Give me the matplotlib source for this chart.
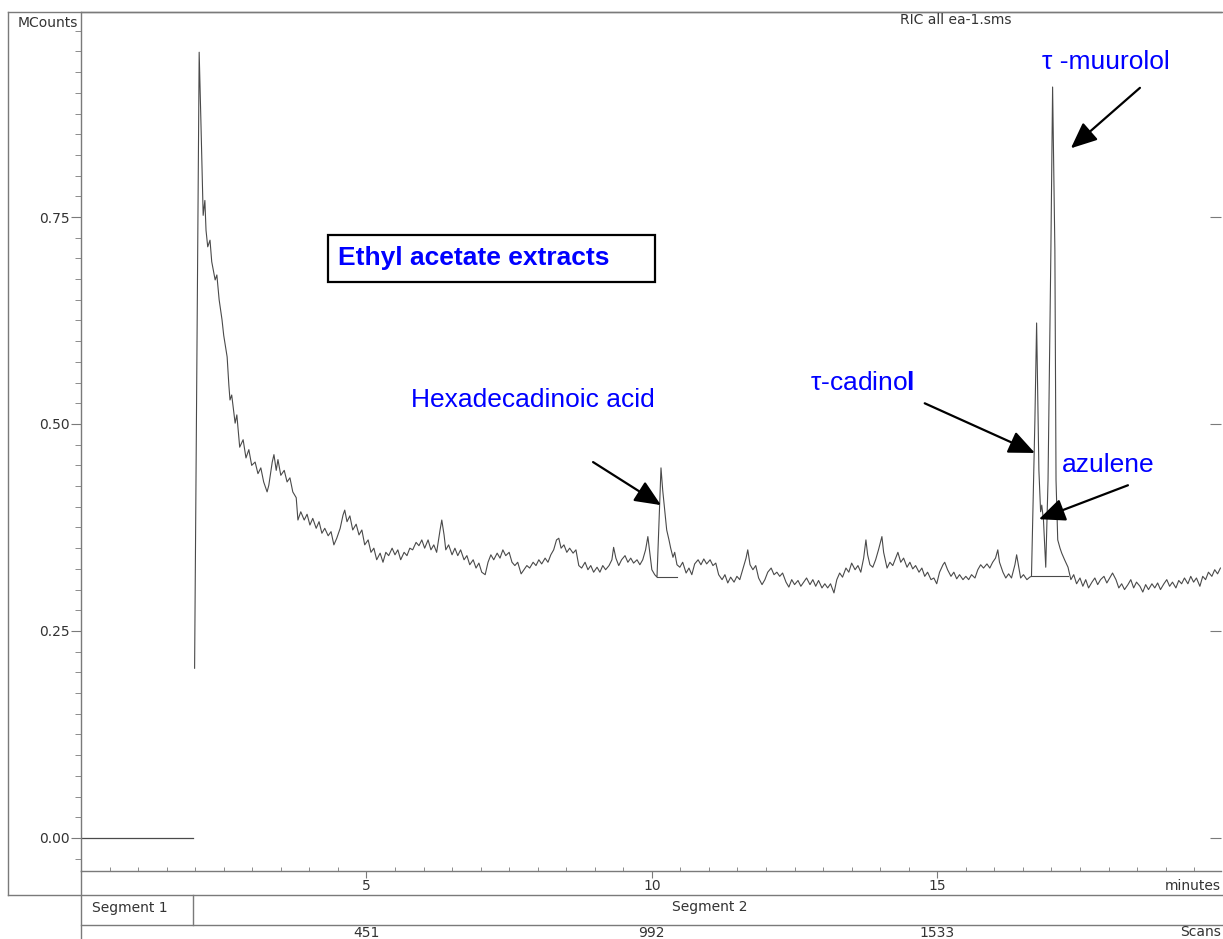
import matplotlib
matplotlib.use("Agg")
import matplotlib.pyplot as plt
from matplotlib import transforms
from matplotlib.lines import Line2D
from matplotlib.patches import Rectangle
from matplotlib.ticker import MultipleLocator, FixedLocator, FormatStrFormatter

plt.rcParams['font.family'] = ['Liberation Sans', 'DejaVu Sans']
plt.rcParams['mathtext.fontset'] = 'custom'
plt.rcParams['mathtext.rm'] = 'Liberation Sans'
plt.rcParams['mathtext.bf'] = 'Liberation Sans:bold'

# Segment 1: flat trace before acquisition starts
seg1_time = [0.0, 1.96]
seg1_counts = [0.0, 0.0]

# Segment 2: RIC trace (minutes, MCounts)
ret_time = [
    1.99, 2.07, 2.10, 2.14, 2.17, 2.19, 2.22, 2.26, 2.29, 2.35,
    2.38, 2.42, 2.47, 2.50, 2.56, 2.59, 2.61, 2.64, 2.70, 2.73,
    2.78, 2.84, 2.89, 2.94, 2.99, 3.05, 3.10, 3.15, 3.20, 3.26,
    3.29, 3.35, 3.38, 3.42, 3.45, 3.50, 3.56, 3.61, 3.66, 3.71,
    3.77, 3.80, 3.85, 3.91, 3.96, 4.01, 4.06, 4.12, 4.17, 4.22,
    4.27, 4.33, 4.38, 4.43, 4.48, 4.54, 4.59, 4.62, 4.66, 4.71,
    4.76, 4.82, 4.87, 4.92, 4.97, 5.03, 5.08, 5.13, 5.18, 5.24,
    5.29, 5.34, 5.39, 5.45, 5.50, 5.55, 5.60, 5.66, 5.71, 5.76,
    5.81, 5.87, 5.92, 5.97, 6.02, 6.08, 6.13, 6.18, 6.23, 6.29,
    6.32, 6.36, 6.39, 6.44, 6.50, 6.55, 6.60, 6.65, 6.71, 6.76,
    6.81, 6.87, 6.92, 6.97, 7.02, 7.08, 7.13, 7.18, 7.23, 7.29,
    7.34, 7.39, 7.44, 7.50, 7.55, 7.60, 7.65, 7.71, 7.76, 7.81,
    7.86, 7.92, 7.97, 8.02, 8.07, 8.13, 8.18, 8.23, 8.28, 8.33,
    8.37, 8.41, 8.46, 8.51, 8.56, 8.62, 8.67, 8.72, 8.77, 8.83,
    8.88, 8.93, 8.98, 9.04, 9.09, 9.14, 9.19, 9.25, 9.30, 9.33,
    9.37, 9.42, 9.47, 9.53, 9.58, 9.63, 9.68, 9.74, 9.79, 9.84,
    9.89, 9.93, 9.97, 10.00, 10.05, 10.09, 10.16, 10.19, 10.23, 10.26,
    10.30, 10.33, 10.37, 10.40, 10.44, 10.49, 10.54, 10.60, 10.65, 10.70,
    10.75, 10.81, 10.86, 10.91, 10.96, 11.02, 11.07, 11.12, 11.17, 11.23,
    11.28, 11.33, 11.38, 11.44, 11.49, 11.54, 11.59, 11.65, 11.68, 11.72,
    11.77, 11.82, 11.87, 11.93, 11.98, 12.03, 12.09, 12.14, 12.19, 12.24,
    12.29, 12.35, 12.40, 12.45, 12.50, 12.56, 12.61, 12.66, 12.71, 12.77,
    12.82, 12.87, 12.92, 12.98, 13.03, 13.08, 13.13, 13.19, 13.24, 13.29,
    13.34, 13.40, 13.45, 13.50, 13.56, 13.61, 13.66, 13.71, 13.75, 13.78,
    13.82, 13.87, 13.92, 13.97, 14.03, 14.06, 14.12, 14.17, 14.22, 14.27,
    14.31, 14.36, 14.41, 14.47, 14.52, 14.57, 14.62, 14.68, 14.73, 14.78,
    14.83, 14.89, 14.94, 14.99, 15.04, 15.10, 15.13, 15.18, 15.24, 15.29,
    15.34, 15.39, 15.45, 15.50, 15.55, 15.60, 15.66, 15.71, 15.76, 15.81,
    15.87, 15.92, 15.97, 16.02, 16.06, 16.09, 16.15, 16.20, 16.25, 16.30,
    16.36, 16.39, 16.43, 16.46, 16.51, 16.57, 16.62, 16.65, 16.71, 16.74,
    16.78, 16.81, 16.83, 16.86, 16.90, 16.94, 16.99, 17.02, 17.06, 17.08,
    17.11, 17.15, 17.18, 17.23, 17.29, 17.34, 17.39, 17.44, 17.50, 17.55,
    17.60, 17.65, 17.71, 17.76, 17.81, 17.86, 17.92, 17.97, 18.02, 18.07,
    18.13, 18.18, 18.23, 18.28, 18.34, 18.39, 18.44, 18.49, 18.55, 18.60,
    18.65, 18.70, 18.76, 18.81, 18.86, 18.91, 18.97, 19.02, 19.07, 19.12,
    19.18, 19.23, 19.28, 19.33, 19.39, 19.44, 19.49, 19.54, 19.60, 19.65,
    19.70, 19.75, 19.81, 19.86, 19.91, 19.96,
]
mcounts = [
    0.205, 0.949, 0.867, 0.752, 0.770, 0.734, 0.714, 0.722, 0.696, 0.674,
    0.680, 0.650, 0.626, 0.607, 0.581, 0.547, 0.529, 0.535, 0.501, 0.511,
    0.472, 0.481, 0.459, 0.469, 0.450, 0.454, 0.440, 0.447, 0.430, 0.418,
    0.426, 0.454, 0.463, 0.444, 0.457, 0.438, 0.444, 0.430, 0.435, 0.418,
    0.411, 0.384, 0.394, 0.384, 0.391, 0.378, 0.386, 0.374, 0.382, 0.368,
    0.374, 0.365, 0.370, 0.354, 0.362, 0.374, 0.390, 0.396, 0.382, 0.389,
    0.372, 0.379, 0.366, 0.372, 0.354, 0.360, 0.345, 0.350, 0.336, 0.344,
    0.333, 0.345, 0.341, 0.350, 0.342, 0.348, 0.336, 0.345, 0.341, 0.350,
    0.348, 0.357, 0.353, 0.360, 0.350, 0.360, 0.348, 0.354, 0.345, 0.372,
    0.384, 0.366, 0.348, 0.354, 0.342, 0.350, 0.341, 0.348, 0.336, 0.341,
    0.330, 0.336, 0.326, 0.332, 0.321, 0.318, 0.333, 0.342, 0.336, 0.344,
    0.338, 0.348, 0.341, 0.345, 0.333, 0.329, 0.333, 0.319, 0.324, 0.329,
    0.326, 0.333, 0.329, 0.336, 0.331, 0.338, 0.333, 0.342, 0.348, 0.360,
    0.362, 0.350, 0.354, 0.345, 0.350, 0.344, 0.348, 0.329, 0.326, 0.333,
    0.324, 0.329, 0.321, 0.327, 0.321, 0.329, 0.324, 0.329, 0.336, 0.351,
    0.338, 0.329, 0.336, 0.341, 0.333, 0.338, 0.332, 0.336, 0.330, 0.336,
    0.348, 0.364, 0.341, 0.324, 0.318, 0.315, 0.447, 0.420, 0.393, 0.372,
    0.360, 0.350, 0.339, 0.345, 0.330, 0.327, 0.333, 0.320, 0.326, 0.318,
    0.331, 0.336, 0.330, 0.337, 0.331, 0.336, 0.329, 0.332, 0.318, 0.312,
    0.318, 0.308, 0.315, 0.309, 0.316, 0.312, 0.324, 0.338, 0.348, 0.330,
    0.324, 0.329, 0.314, 0.306, 0.312, 0.321, 0.326, 0.318, 0.321, 0.316,
    0.320, 0.309, 0.303, 0.312, 0.306, 0.311, 0.304, 0.309, 0.314, 0.306,
    0.312, 0.304, 0.311, 0.302, 0.307, 0.302, 0.307, 0.296, 0.312, 0.320,
    0.315, 0.326, 0.321, 0.332, 0.324, 0.329, 0.321, 0.338, 0.360, 0.342,
    0.330, 0.327, 0.336, 0.348, 0.364, 0.345, 0.326, 0.333, 0.329, 0.338,
    0.345, 0.333, 0.338, 0.327, 0.333, 0.325, 0.329, 0.321, 0.326, 0.316,
    0.321, 0.312, 0.314, 0.307, 0.321, 0.330, 0.333, 0.324, 0.316, 0.321,
    0.313, 0.318, 0.312, 0.316, 0.312, 0.318, 0.314, 0.324, 0.330, 0.326,
    0.331, 0.326, 0.333, 0.338, 0.348, 0.333, 0.321, 0.314, 0.319, 0.314,
    0.330, 0.342, 0.326, 0.314, 0.318, 0.312, 0.315, 0.316, 0.505, 0.622,
    0.444, 0.394, 0.402, 0.384, 0.327, 0.432, 0.710, 0.907, 0.710, 0.432,
    0.360, 0.350, 0.344, 0.336, 0.327, 0.312, 0.318, 0.307, 0.314, 0.304,
    0.312, 0.302, 0.309, 0.314, 0.306, 0.312, 0.316, 0.308, 0.314, 0.320,
    0.312, 0.302, 0.307, 0.300, 0.306, 0.312, 0.302, 0.309, 0.304, 0.297,
    0.306, 0.300, 0.307, 0.302, 0.308, 0.300, 0.307, 0.312, 0.304, 0.309,
    0.302, 0.311, 0.307, 0.314, 0.307, 0.316, 0.309, 0.314, 0.304, 0.316,
    0.312, 0.321, 0.316, 0.324, 0.319, 0.326,
]

# integration baselines drawn under the integrated peaks
base_start = [10.09, 16.65]
base_end = [10.44, 17.29]
base_level = [0.315, 0.316]

# scan-number axis under the time axis
scan_minutes = [5, 10, 15]
scan_labels = ["451", "992", "1533"]
segment2_start = 1.96

# peak labels: text, text pos, arrow tail, arrow tip
peak_names = ["Hexadecadinoic acid", r"τ-cadino$\mathbf{l}$", "azulene", "τ -muurolol"]
label_pos = [(7.92, 0.529), (13.68, 0.550), (17.99, 0.450), (17.95, 0.937)]
arrow_tail = [(8.97, 0.454), (14.78, 0.525), (18.34, 0.426), (18.55, 0.906)]
arrow_tip = [(10.16, 0.402), (16.71, 0.465), (16.78, 0.385), (17.34, 0.833)]

W, H = 1223, 939
def fx(px):
    return px / W
def fy(py):
    return 1 - py / H

TRACE = "#4a4a4a"
FRAME = "#7a7a7a"
INSTR = dict(family="DejaVu Sans", fontsize=10, color="#333333")

fig = plt.figure(figsize=(12.23, 9.39), dpi=100)
ax = fig.add_axes([fx(81), fy(871), fx(1221) - fx(81), fy(12) - fy(871)])

ax.plot(seg1_time, seg1_counts, color=TRACE, lw=0.9)
ax.plot(ret_time, mcounts, color=TRACE, lw=0.8)
for t0, t1, lvl in zip(base_start, base_end, base_level):
    ax.plot([t0, t1], [lvl, lvl], color=TRACE, lw=0.8)

ax.set_xlim(0, 19.97)
ax.set_ylim(-0.0399, 0.9976)
ax.xaxis.set_major_locator(FixedLocator([5, 10, 15]))
ax.xaxis.set_minor_locator(MultipleLocator(0.5))
ax.yaxis.set_major_locator(MultipleLocator(0.25))
ax.yaxis.set_minor_locator(MultipleLocator(0.025))
ax.yaxis.set_major_formatter(FormatStrFormatter('%.2f'))

ax.tick_params(axis='y', which='major', direction='out', length=7, width=0.8, color=FRAME,
               labelsize=10, labelcolor="#333333", labelfontfamily="DejaVu Sans", pad=1)
ax.tick_params(axis='y', which='minor', direction='out', length=4, width=0.6, color=FRAME)
ax.tick_params(axis='x', which='major', direction='out', length=5, width=0.8, color=FRAME,
               labelsize=10, labelcolor="#333333", labelfontfamily="DejaVu Sans", pad=1)
ax.tick_params(axis='x', which='minor', direction='in', length=3, width=0.6, color=FRAME)
for side in ['left', 'bottom', 'top']:
    ax.spines[side].set_color(FRAME)
    ax.spines[side].set_linewidth(1.0)
ax.spines['right'].set_visible(False)

# right-hand major ticks pointing inwards
ax2 = ax.twinx()
ax2.set_ylim(ax.get_ylim())
ax2.yaxis.set_major_locator(MultipleLocator(0.25))
ax2.tick_params(axis='y', direction='in', length=8, width=0.8, color=FRAME, labelright=False)
for s in ax2.spines.values():
    s.set_visible(False)

# peak annotations
for name, pos, tail, tip in zip(peak_names, label_pos, arrow_tail, arrow_tip):
    ax.text(pos[0], pos[1], name, color="blue", fontsize=19, ha="center", va="center")
    ax.annotate("", xy=tip, xytext=tail,
                arrowprops=dict(arrowstyle="-|>,head_length=0.8,head_width=0.35",
                                color="black", lw=1.6, mutation_scale=20,
                                shrinkA=0, shrinkB=0))

# title box
fig.patches.append(Rectangle((fx(328), fy(282)), fx(655) - fx(328), fy(235) - fy(282),
                             transform=fig.transFigure, fill=False, ec="black", lw=1.6))
fig.text(fx(338), fy(258), "Ethyl acetate extracts", color="blue", fontsize=19,
         fontweight="bold", ha="left", va="center")

# instrument frame and text
def fig_line(xs, ys):
    fig.add_artist(Line2D([fx(v) for v in xs], [fy(v) for v in ys],
                          transform=fig.transFigure, color=FRAME, lw=1.0))

fig_line([8, 1223], [12, 12])
fig_line([8, 8], [12, 895])
fig_line([8, 1223], [895, 895])
fig_line([81, 1223], [925, 925])
fig_line([81, 81], [871, 939])

fig.text(fx(18), fy(23), "MCounts", ha="left", va="center", **INSTR)
fig.text(fx(956), fy(20), "RIC all ea-1.sms", ha="center", va="center", **INSTR)
fig.text(fx(1221), fy(886), "minutes", ha="right", va="center", **INSTR)
fig.text(fx(1221), fy(932), "Scans", ha="right", va="center", **INSTR)
fig.text(fx(130), fy(908), "Segment 1", ha="center", va="center", **INSTR)
fig.text(fx(710), fy(907), "Segment 2", ha="center", va="center", **INSTR)

blend = transforms.blended_transform_factory(ax.transData, fig.transFigure)
fig.add_artist(Line2D([segment2_start, segment2_start], [fy(895), fy(925)],
                      transform=blend, color=FRAME, lw=1.0))
for m, lbl in zip(scan_minutes, scan_labels):
    fig.text(m, fy(933), lbl, transform=blend, ha="center", va="center", **INSTR)

fig.savefig("out.png", dpi=100)
